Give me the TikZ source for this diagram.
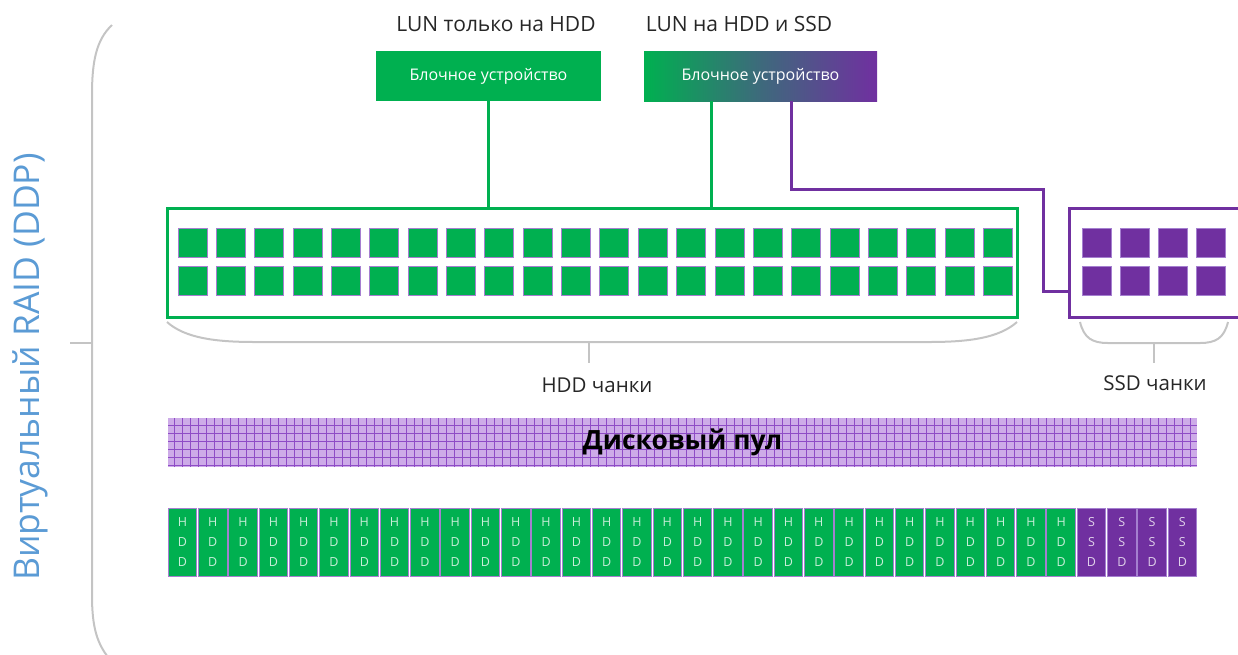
\documentclass[tikz,border=0pt]{standalone}
\usepackage{fontspec}
\setmainfont{Open Sans}
\usetikzlibrary{positioning,calc}

\definecolor{ddpgreen}{HTML}{00B050}
\definecolor{ddppurple}{HTML}{7030A0}
\definecolor{ddplilac}{HTML}{CDABE8}
\definecolor{ddpgrid}{HTML}{8E4CC6}
\definecolor{ddpedge}{HTML}{A57FD0}
\definecolor{ddpblue}{HTML}{5B9BD5}
\definecolor{ddpgray}{HTML}{C4C4C4}

\begin{document}
\begin{tikzpicture}[
    x=1pt, y=-1pt,
    title/.style={font=\fontsize{21}{24}\selectfont, text=black!85},
    blk/.style={minimum height=50, inner sep=0, text=white,
                font=\fontsize{16}{18}\selectfont},
    box/.style={draw, line width=3, minimum height=109, inner sep=0},
    chunk/.style={draw=ddpedge, line width=0.8, minimum size=29, inner sep=0},
    disk/.style={draw=ddpedge, line width=1, minimum width=28.5,
                 minimum height=68, inner sep=0, align=center,
                 font=\fontsize{12.5}{20}\selectfont},
    brace/.style={ddpgray, line width=2},
    lbl/.style={font=\fontsize{20.5}{24}\selectfont, text=black!85},
    lun/.style={line width=3}
]
  \useasboundingbox (0,0) rectangle (1238,654);

  % block devices
  \node[title] (lunhdd) at (496,24) {LUN только на HDD};
  \node[title] (lunmix) at (739,24) {LUN на HDD и SSD};
  \node[blk, fill=ddpgreen, minimum width=225] (blkhdd) at (488.5,76)
    {Блочное устройство};
  \node[blk, minimum width=233, left color=ddpgreen, right color=ddppurple,
        middle color=ddpgreen!45!ddppurple] (blkmix) at (760.5,76)
    {Блочное устройство};

  % chunk boxes
  \node[box, draw=ddpgreen, minimum width=850] (hddbox) at (592,262.5) {};
  \node[box, draw=ddppurple, minimum width=180] (ssdbox) at (1159,262.5) {};
  \foreach \col in {0,...,21}
    \foreach \row in {0,1}
      \node[chunk, fill=ddpgreen] (h-\col-\row) at (192.5+38.35*\col, 243+38*\row) {};
  \foreach \col in {0,...,3}
    \foreach \row in {0,1}
      \node[chunk, fill=ddppurple] (s-\col-\row) at (1096.5+38*\col, 243+38*\row) {};

  % connectors
  \draw[lun, ddpgreen] (blkhdd.south) -- (blkhdd.south |- hddbox.north);
  \draw[lun, ddpgreen] ([xshift=-49]blkmix.south) -- ([xshift=-49]blkmix.south |- hddbox.north);
  \coordinate (bend) at (1043,189);
  \draw[lun, ddppurple] ([xshift=31]blkmix.south) |- (bend) |- ([yshift=-28.5]ssdbox.west);

  % braces
  \draw[brace] (167,322) .. controls (185,338) and (215,342) .. (255,342)
    -- (929,342) .. controls (969,342) and (999,338) .. (1017,322);
  \draw[brace] (589,342) -- (589,363);
  \node[lbl] (hddlbl) at (597,385) {HDD чанки};
  \draw[brace] (1080,322) .. controls (1084,338) and (1092,343) .. (1108,343)
    -- (1200,343) .. controls (1216,343) and (1224,338) .. (1228,322);
  \draw[brace] (1154,343) -- (1154,363);
  \node[lbl] (ssdlbl) at (1155,383) {SSD чанки};

  % disk pool
  \node[fill=ddplilac, minimum width=1029, minimum height=49, inner sep=0,
        font=\fontsize{26.5}{30}\selectfont\bfseries,
        path picture={\draw[ddpgrid, line width=1.2]
          (path picture bounding box.south west) grid[step=8pt]
          (path picture bounding box.north east);}] (pool) at (682.5,442.5)
    {Дисковый пул};

  % disks
  \foreach \k in {0,...,29}
    \node[disk, fill=ddpgreen, text=white!78!ddpgreen] (d-\k) at (182.5+30.3*\k,542) {H\\D\\D};
  \foreach \k in {30,...,33}
    \node[disk, fill=ddppurple, text=white!78!ddppurple] (d-\k) at (182.5+30.3*\k,542) {S\\S\\D};

  % virtual RAID brace
  \draw[brace] (112,25) .. controls (96,40) and (92,62) .. (92,95)
    -- (92,595) .. controls (92,628) and (97,645) .. (112,662);
  \draw[brace] (70,343) -- (92,343);
  \node[rotate=90, text=ddpblue, font=\fontsize{35.5}{38}\selectfont] (raid) at (30,367)
    {Виртуальный RAID (DDP)};
\end{tikzpicture}
\end{document}
